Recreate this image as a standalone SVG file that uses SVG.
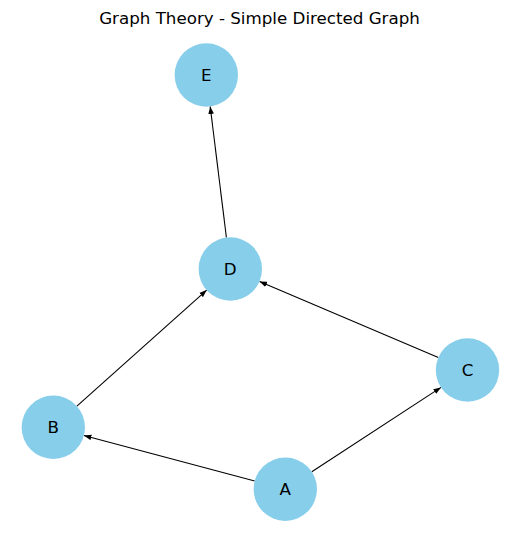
<svg xmlns="http://www.w3.org/2000/svg" width="519" height="542" viewBox="0 0 519 542">
<style>
.node circle{fill:#87ceeb;}
.node text{font-family:"DejaVu Sans",sans-serif;font-size:16.7px;fill:#000;text-anchor:middle;dominant-baseline:central;}
.edge{stroke:#000;stroke-width:1.1;fill:none;marker-end:url(#ah);}
.title{font-family:"DejaVu Sans",sans-serif;font-size:16.7px;fill:#000;text-anchor:middle;}
</style>
<defs>
<marker id="ah" markerUnits="userSpaceOnUse" markerWidth="8" markerHeight="6" refX="7.5" refY="2.8" orient="auto" viewBox="0 0 8 5.6">
<path d="M0,0 L7.5,2.8 L0,5.6 Z" fill="#000"/>
</marker>
</defs>
<rect width="519" height="542" fill="#fff"/>
<text class="title" x="259.5" y="23.5">Graph Theory - Simple Directed Graph</text>
<g id="connectors">
<line class="edge" x1="254.7" y1="481.0" x2="83.9" y2="435.5"/>
<line class="edge" x1="311.8" y1="471.8" x2="441" y2="387.4"/>
<line class="edge" x1="76.9" y1="406.2" x2="206.7" y2="290.1"/>
<line class="edge" x1="438.3" y1="357.6" x2="259.5" y2="281.4"/>
<line class="edge" x1="226.4" y1="237.5" x2="210.2" y2="106.5"/>
</g>
<g id="node-E" class="node"><circle cx="206.3" cy="75" r="31.7"/><text x="206.3" y="75">E</text></g>
<g id="node-D" class="node"><circle cx="230.3" cy="269" r="31.7"/><text x="230.3" y="269">D</text></g>
<g id="node-B" class="node"><circle cx="53.3" cy="427.3" r="31.7"/><text x="53.3" y="427.3">B</text></g>
<g id="node-C" class="node"><circle cx="467.5" cy="370" r="31.7"/><text x="467.5" y="370">C</text></g>
<g id="node-A" class="node"><circle cx="285.3" cy="489.2" r="31.7"/><text x="285.3" y="489.2">A</text></g>
</svg>
